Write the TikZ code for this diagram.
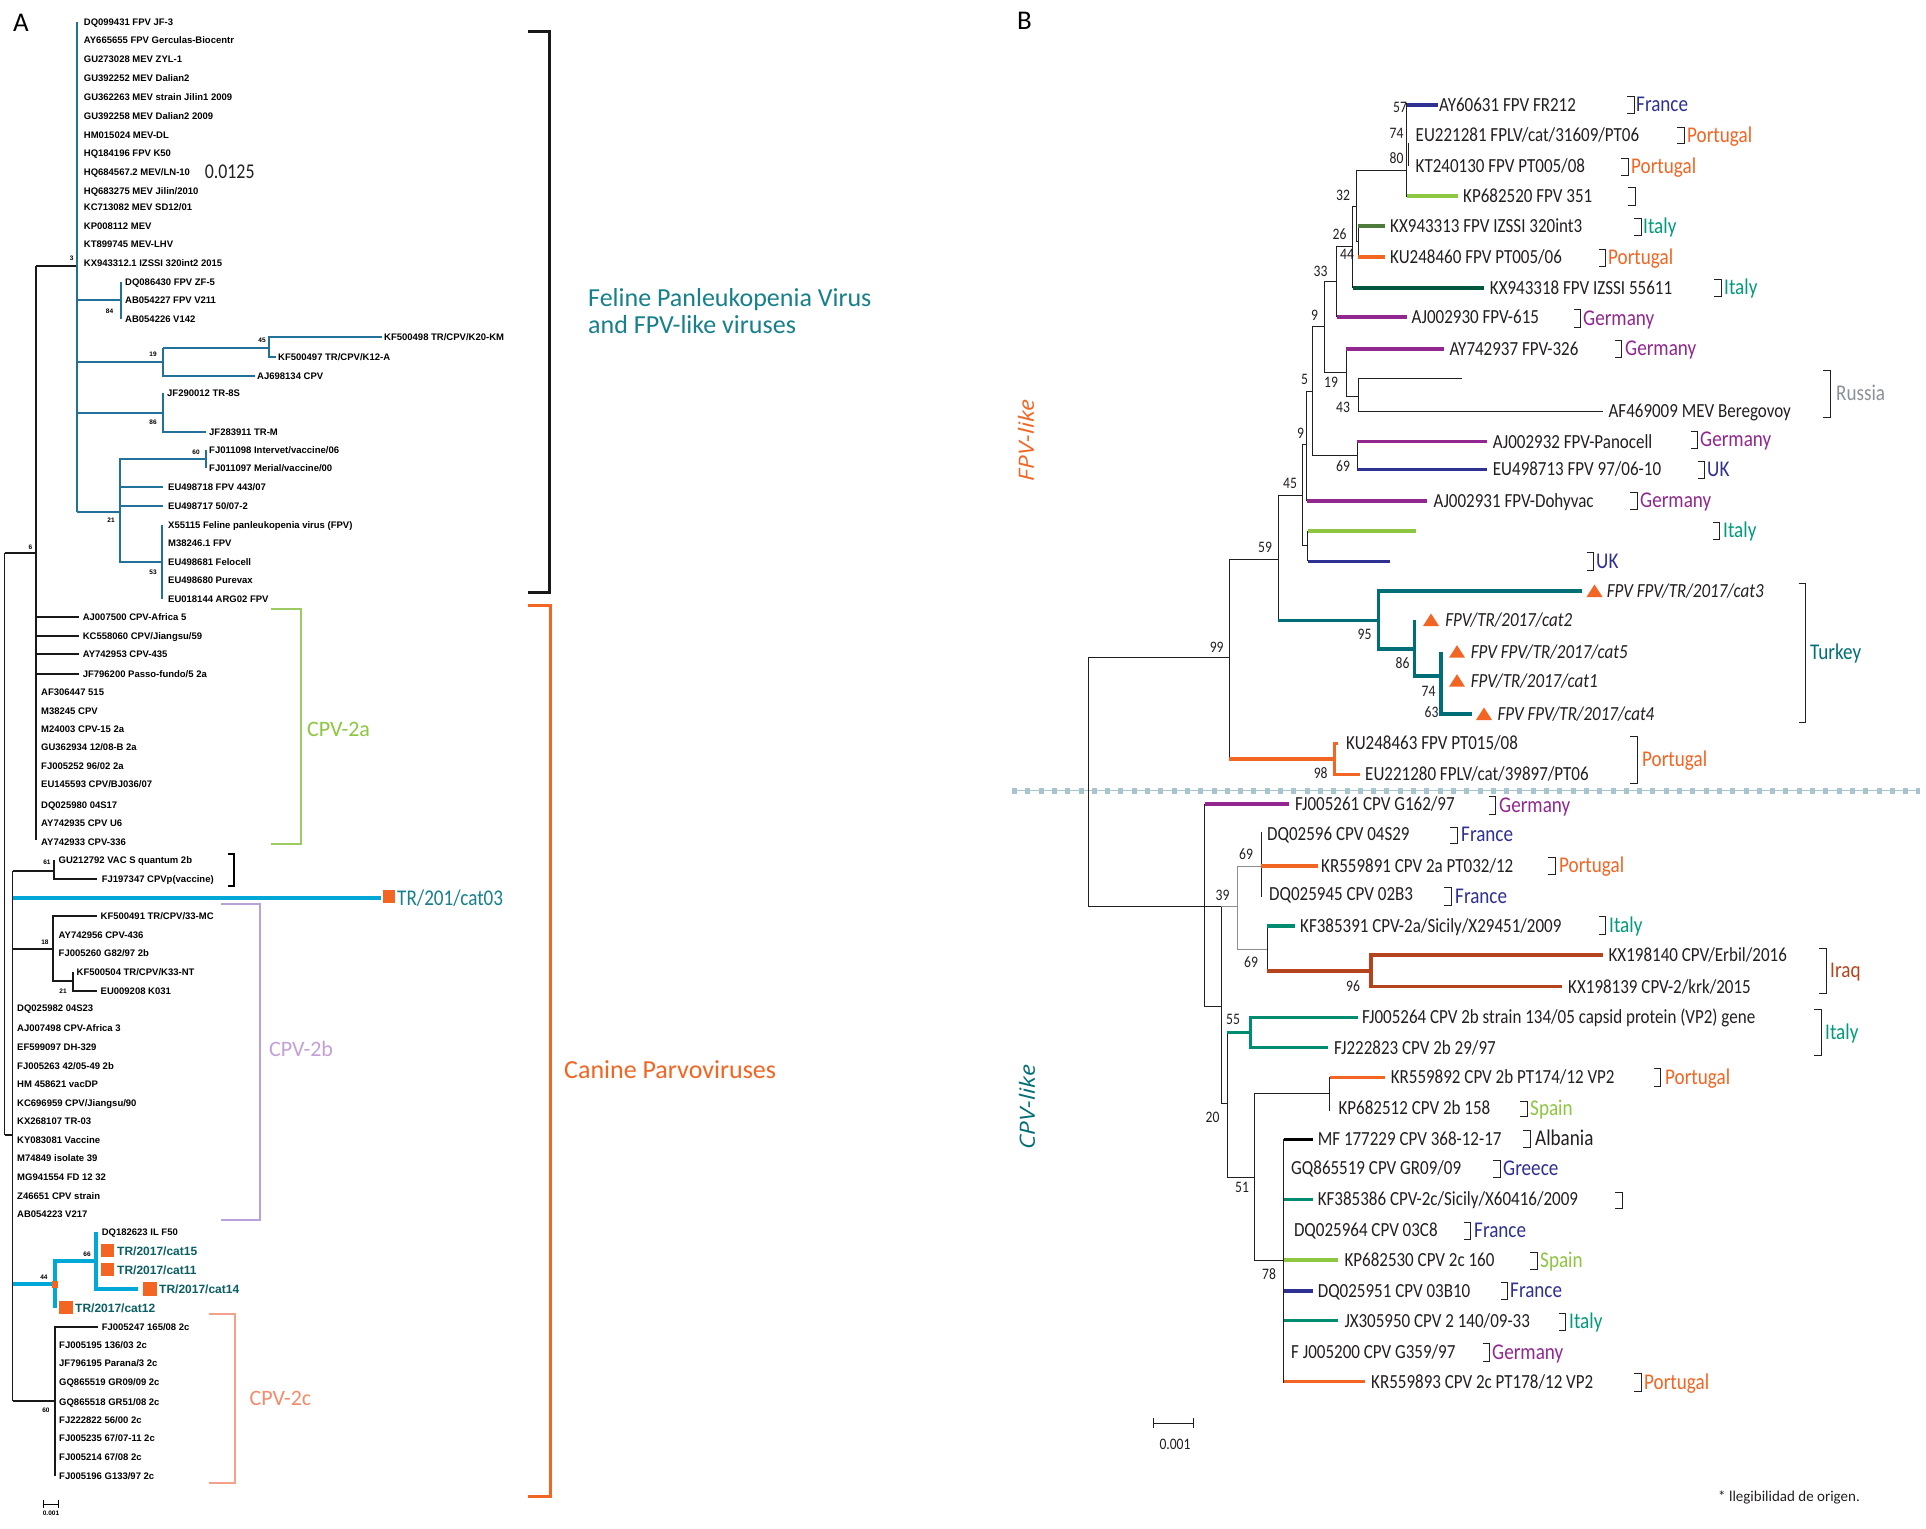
\documentclass[tikz,border=0pt]{standalone}
\usepackage{fontspec}
\usepackage{graphicx}
\newfontfamily\fa{Liberation Sans}
\newfontfamily\fb[FakeStretch=0.85]{Carlito}
\newfontfamily\fc{Carlito}
\newfontfamily\fo{Open Sans}
\definecolor{navyB}{HTML}{2E3192}
\definecolor{orangeB}{HTML}{F26522}
\definecolor{italyB}{HTML}{009B7A}
\definecolor{purpleB}{HTML}{92278F}
\definecolor{greenB}{HTML}{8DC63F}
\definecolor{grayB}{HTML}{8B9199}
\definecolor{turkeyB}{HTML}{006E76}
\definecolor{brownB}{HTML}{B5441E}
\definecolor{dkgA}{HTML}{4E7A3C}
\definecolor{dkgB}{HTML}{00573F}
\definecolor{tealC}{HTML}{008C70}
\definecolor{blueA}{HTML}{22719A}
\definecolor{cyanA}{HTML}{00A8D8}
\definecolor{tealA}{HTML}{17808A}
\definecolor{trA}{HTML}{0B5E63}
\definecolor{greenA}{HTML}{9CCB63}
\definecolor{purpleA}{HTML}{B7A3D9}
\definecolor{purpleL}{HTML}{C3A0D6}
\definecolor{salmonA}{HTML}{F3A18A}
\definecolor{salmonL}{HTML}{F48B6A}
\definecolor{sepB}{HTML}{A7C4CF}
\definecolor{inkB}{HTML}{231F20}
\tikzset{
  la/.style={anchor=west,inner sep=0pt,font=\fa\bfseries\fontsize{9.5}{10}\selectfont,text height=6.8pt,text depth=0pt},
  lt/.style={anchor=west,inner sep=0pt,font=\fa\bfseries\fontsize{12}{13}\selectfont,text height=8.6pt,text depth=0pt,text=trA},
  ba/.style={inner sep=0pt,font=\fa\bfseries\fontsize{6.5}{7}\selectfont},
  lb/.style={anchor=west,inner sep=0pt,font=\fb\fontsize{20}{22}\selectfont,text height=12.6pt,text depth=0pt,text=inkB},
  lbi/.style={lb,font=\fb\itshape\fontsize{20}{22}\selectfont},
  cl/.style={anchor=west,inner sep=0pt,font=\fb\fontsize{22.5}{24}\selectfont,text height=14.2pt,text depth=0pt},
  bb/.style={inner sep=0pt,font=\fb\fontsize{16}{17}\selectfont,text=inkB},
  big/.style={anchor=west,inner sep=0pt,font=\fc\fontsize{26}{28}\selectfont,text height=16.4pt,text depth=0pt},
  mid/.style={anchor=west,inner sep=0pt,font=\fc\fontsize{22}{24}\selectfont,text height=13.9pt,text depth=0pt},
  ta/.style={line width=1.2pt,black!90},
  tb/.style={line width=1.2pt,blueA},
  tc/.style={line width=3.3pt,cyanA},
  tn/.style={line width=1pt,inkB},
  tg/.style={line width=1pt,black!45},
  tk/.style={line width=3.3pt},
  brk/.style={line width=1pt,inkB},
}
\newcommand\LeafA[4]{\node[la] (#1) at (#2,#3) {#4};}
\newcommand\LeafB[4]{\node[lb] (#1) at (#2,#3) {#4};}
\newcommand\BootA[4]{\node[ba] (#1) at (#2,#3) {#4};}
\newcommand\BootB[4]{\node[bb] (#1) at (#2,#3) {#4};}
\newcommand\Brk[3]{\draw[brk] ({#1-7},#2) -- (#1,#2) -- (#1,#3) -- ({#1-7},#3);}
\newcommand\Ctry[5]{\node[cl,text=#4] (#1) at (#2,#3) {#5};}
\newcommand\Tri[2]{\fill[orangeB] (#1,{#2-6.5}) -- ({#1+8},{#2+6}) -- ({#1-8},{#2+6}) -- cycle;}
\begin{document}
\begin{tikzpicture}[x=1pt,y=-1pt]
\fill[white] (0,0) rectangle (1926,1528);
\useasboundingbox (0,0) rectangle (1926,1528);

% ---------------- Panel A ----------------
\node[anchor=west,inner sep=0pt,font=\fc\fontsize{27}{28}\selectfont,text height=17pt,text depth=0pt] (labA) at (13,23) {A};

% black branches
\draw[ta] (4.5,553) -- (4.5,1135);
\draw[ta] (4.5,553) -- (36,553);
\draw[ta] (4.5,1135) -- (12.6,1135);
\draw[ta] (36,266) -- (36,840);
\draw[line width=2.8pt,black!90] (36,266) -- (77,266);
\draw[ta] (36,617) -- (79,617);
\draw[ta] (36,636) -- (79,636);
\draw[ta] (36,654) -- (79,654);
\draw[ta] (36,674) -- (79,674);
\draw[ta] (12.6,871) -- (12.6,1401);
\draw[ta] (12.6,871) -- (54,871);
\draw[ta] (54,860) -- (54,879) -- (97,879);
\draw[ta] (12.6,949) -- (53,949);
\draw[ta] (97,916) -- (53,916) -- (53,981) -- (73,981);
\draw[ta] (73,972) -- (73,991) -- (97,991);
\draw[ta] (12.6,1401) -- (55,1401);
\draw[ta] (98,1327) -- (55,1327) -- (55,1476);
% blue branches
\draw[tb] (77,22) -- (77,512);
\draw[tb] (77,300) -- (121,300);
\draw[tb] (121,282) -- (121,319);
\draw[tb] (77,362) -- (163,362);
\draw[tb] (163,348) -- (163,376) -- (255,376);
\draw[tb] (163,348) -- (269,348);
\draw[tb] (382,337) -- (269,337) -- (269,357) -- (276,357);
\draw[tb] (77,413) -- (163,413);
\draw[tb] (163,393) -- (163,432) -- (206,432);
\draw[tb] (77,512) -- (120,512);
\draw[tb] (206,459) -- (120,459) -- (120,562) -- (162,562);
\draw[tb] (206,450) -- (206,468);
\draw[tb] (120,487) -- (163,487);
\draw[tb] (120,506) -- (163,506);
\draw[tb] (162,525) -- (162,599);
% cyan branches
\draw[tc] (12.6,898) -- (380.5,898);
\draw[tc] (12.6,1284) -- (55,1284);
\draw[tc] (55,1308) -- (55,1261) -- (96,1261);
\draw[tc] (96,1232) -- (96,1289) -- (138,1289);
% orange squares
\fill[orangeB] (383,890) rectangle (395,903);
\fill[orangeB] (100.5,1244) rectangle (114,1257);
\fill[orangeB] (100.5,1263) rectangle (114,1276);
\fill[orangeB] (143,1282) rectangle (156.5,1296);
\fill[orangeB] (59,1301) rectangle (72.5,1314);
\fill[orangeB] (52,1281) rectangle (57.5,1288);

% brackets A
\draw[line width=3pt,black!90] (528,32) -- (549,32) -- (549,592) -- (528,592);
\draw[line width=3pt,orangeB] (528,605) -- (550,605) -- (550,1496) -- (528,1496);
\draw[line width=1.3pt,greenA] (271,609) -- (301,609) -- (301,844) -- (271,844);
\draw[line width=1.1pt,black] (228,854) -- (234,854) -- (234,886) -- (228,886);
\draw[line width=1.3pt,purpleA] (221,904) -- (260,904) -- (260,1220) -- (221,1220);
\draw[line width=1.3pt,salmonA] (209,1314) -- (235,1314) -- (235,1483) -- (209,1483);

% leaf labels A
\LeafA{a1}{83.7}{22}{DQ099431 FPV JF-3}
\LeafA{a2}{83.7}{40}{AY665655 FPV Gerculas-Biocentr}
\LeafA{a3}{83.7}{59}{GU273028 MEV ZYL-1}
\LeafA{a4}{83.7}{78}{GU392252 MEV Dalian2}
\LeafA{a5}{83.7}{97}{GU362263 MEV strain Jilin1 2009}
\LeafA{a6}{83.7}{116}{GU392258 MEV Dalian2 2009}
\LeafA{a7}{83.7}{135}{HM015024 MEV-DL}
\LeafA{a8}{83.7}{153}{HQ184196 FPV K50}
\LeafA{a9}{83.7}{172}{HQ684567.2 MEV/LN-10}
\LeafA{a10}{83.7}{191}{HQ683275 MEV Jilin/2010}
\LeafA{a11}{83.7}{207}{KC713082 MEV SD12/01}
\LeafA{a12}{83.7}{226}{KP008112 MEV}
\LeafA{a13}{83.7}{244}{KT899745 MEV-LHV}
\LeafA{a14}{83.7}{263}{KX943312.1 IZSSI 320int2 2015}
\LeafA{a15}{125}{282}{DQ086430 FPV ZF-5}
\LeafA{a16}{125}{300}{AB054227 FPV V211}
\LeafA{a17}{125}{319}{AB054226 V142}
\LeafA{a18}{384}{337}{KF500498 TR/CPV/K20-KM}
\LeafA{a19}{278}{357}{KF500497 TR/CPV/K12-A}
\LeafA{a20}{257}{376}{AJ698134 CPV}
\LeafA{a21}{167}{393}{JF290012 TR-8S}
\LeafA{a22}{209}{432}{JF283911 TR-M}
\LeafA{a23}{209}{450}{FJ011098 Intervet/vaccine/06}
\LeafA{a24}{209}{468}{FJ011097 Merial/vaccine/00}
\LeafA{a25}{168}{487}{EU498718 FPV 443/07}
\LeafA{a26}{168}{506}{EU498717 50/07-2}
\LeafA{a27}{168}{525}{X55115 Feline panleukopenia virus (FPV)}
\LeafA{a28}{168}{543}{M38246.1 FPV}
\LeafA{a29}{168}{562}{EU498681 Felocell}
\LeafA{a30}{168}{580}{EU498680 Purevax}
\LeafA{a31}{168}{599}{EU018144 ARG02 FPV}
\LeafA{a32}{82.6}{617}{AJ007500 CPV-Africa 5}
\LeafA{a33}{82.6}{636}{KC558060 CPV/Jiangsu/59}
\LeafA{a34}{82.6}{654}{AY742953 CPV-435}
\LeafA{a35}{82.6}{674}{JF796200 Passo-fundo/5 2a}
\LeafA{a36}{41}{692}{AF306447 515}
\LeafA{a37}{41}{711}{M38245 CPV}
\LeafA{a38}{41}{729}{M24003 CPV-15 2a}
\LeafA{a39}{41}{747}{GU362934 12/08-B 2a}
\LeafA{a40}{41}{766}{FJ005252 96/02 2a}
\LeafA{a41}{41}{784}{EU145593 CPV/BJ036/07}
\LeafA{a42}{41}{805}{DQ025980 04S17}
\LeafA{a43}{41}{823}{AY742935 CPV U6}
\LeafA{a44}{41}{842}{AY742933 CPV-336}
\LeafA{a45}{58.5}{860}{GU212792 VAC S quantum 2b}
\LeafA{a46}{101.6}{879}{FJ197347 CPVp(vaccine)}
\LeafA{a47}{100.5}{916}{KF500491 TR/CPV/33-MC}
\LeafA{a48}{58.5}{935}{AY742956 CPV-436}
\LeafA{a49}{58.5}{953}{FJ005260 G82/97 2b}
\LeafA{a50}{76.5}{972}{KF500504 TR/CPV/K33-NT}
\LeafA{a51}{100.5}{991}{EU009208 K031}
\LeafA{a52}{17}{1008}{DQ025982 04S23}
\LeafA{a53}{17}{1028}{AJ007498 CPV-Africa 3}
\LeafA{a54}{17}{1047}{EF599097 DH-329}
\LeafA{a55}{17}{1066}{FJ005263 42/05-49 2b}
\LeafA{a56}{17}{1084}{HM 458621 vacDP}
\LeafA{a57}{17}{1103}{KC696959 CPV/Jiangsu/90}
\LeafA{a58}{17}{1121}{KX268107 TR-03}
\LeafA{a59}{17}{1140}{KY083081 Vaccine}
\LeafA{a60}{17}{1158}{M74849 isolate 39}
\LeafA{a61}{17}{1177}{MG941554 FD 12 32}
\LeafA{a62}{17}{1196}{Z46651 CPV strain}
\LeafA{a63}{17}{1214}{AB054223 V217}
\LeafA{a64}{101.6}{1232}{DQ182623 IL F50}
\node[lt] (t15) at (117,1251) {TR/2017/cat15};
\node[lt] (t11) at (117,1270) {TR/2017/cat11};
\node[lt] (t14) at (159,1289) {TR/2017/cat14};
\node[lt] (t12) at (75,1308) {TR/2017/cat12};
\LeafA{a65}{101.6}{1327}{FJ005247 165/08 2c}
\LeafA{a66}{59}{1345}{FJ005195 136/03 2c}
\LeafA{a67}{59}{1363}{JF796195 Parana/3 2c}
\LeafA{a68}{59}{1382}{GQ865519 GR09/09 2c}
\LeafA{a69}{59}{1402}{GQ865518 GR51/08 2c}
\LeafA{a70}{59}{1420}{FJ222822 56/00 2c}
\LeafA{a71}{59}{1438}{FJ005235 67/07-11 2c}
\LeafA{a72}{59}{1457}{FJ005214 67/08 2c}
\LeafA{a73}{59}{1476}{FJ005196 G133/97 2c}

% bootstrap A
\BootA{n1}{71.8}{258}{3}
\BootA{n2}{109.5}{311}{84}
\BootA{n3}{153}{354}{19}
\BootA{n4}{262}{340}{45}
\BootA{n5}{153}{422}{86}
\BootA{n6}{196}{452}{60}
\BootA{n7}{111}{520}{21}
\BootA{n8}{153}{572}{53}
\BootA{n9}{30.5}{547}{6}
\BootA{n10}{47}{862}{61}
\BootA{n11}{45}{942}{18}
\BootA{n12}{63}{991}{21}
\BootA{n13}{87}{1254}{66}
\BootA{n14}{44}{1277}{44}
\BootA{n15}{46}{1410}{60}

% text A
\node[anchor=west,inner sep=0pt,font=\fb\fontsize{21}{22}\selectfont,text height=13.3pt,text depth=0pt,text=inkB] (sc125) at (204.6,172) {0.0125};
\node[big,text=tealA] (fpvt1) at (588,298) {Feline Panleukopenia Virus};
\node[big,text=tealA] (fpvt2) at (588,325) {and FPV-like viruses};
\node[big,text=orangeB] (cpvt) at (564,1070) {Canine Parvoviruses};
\node[mid,text=greenB] (cpv2a) at (307,730) {CPV-2a};
\node[mid,text=purpleL] (cpv2b) at (269,1050) {CPV-2b};
\node[mid,text=salmonL] (cpv2c) at (249.5,1399) {CPV-2c};
\node[anchor=west,inner sep=0pt,font=\fb\fontsize{22.5}{24}\selectfont,text height=14.2pt,text depth=0pt,text=tealA] (cat03) at (397,898) {TR/201/cat03};
% scale A
\draw[line width=1pt] (43,1504) -- (58.5,1504);
\draw[line width=1pt] (43,1500) -- (43,1508);
\draw[line width=1pt] (58.5,1500) -- (58.5,1508);
\node[ba] (sca) at (51,1513) {0.001};

% ---------------- Panel B ----------------
\node[anchor=west,inner sep=0pt,font=\fc\fontsize{27}{28}\selectfont,text height=17pt,text depth=0pt] (labB) at (1017,21) {B};
\node[rotate=90,inner sep=0pt,text=orangeB,font=\fo\itshape\fontsize{21}{22}\selectfont] (fpvlike) at (1026,440) {\scalebox{1.15}[1]{FPV-like}};
\node[rotate=90,inner sep=0pt,text=turkeyB,font=\fo\itshape\fontsize{21}{22}\selectfont] (cpvlike) at (1027,1107) {\scalebox{1.15}[1]{CPV-like}};

% separator
\draw[sepB,line width=1.5pt] (1012,790.7) -- (1920,790.7);
\draw[sepB,line width=6pt,dash pattern=on 5pt off 8.3pt] (1012,790.7) -- (1920,790.7);

% thin black branches B
\draw[tn] (1406.6,103) -- (1406.6,197);
\draw[tn] (1408.4,143) -- (1408.4,166);
\draw[tn] (1356,170.7) -- (1406.6,170.7);
\draw[tn] (1356,170.7) -- (1356,241.5) -- (1358,241.5);
\draw[tn] (1358,226) -- (1358,257);
\draw[tn] (1356,206) -- (1352.6,206) -- (1352.6,288);
\draw[tn] (1336.6,317) -- (1336.6,246) -- (1352.6,246);
\draw[tn] (1336.6,281) -- (1324.7,281) -- (1324.7,372) -- (1346,372);
\draw[tn] (1346,349) -- (1346,396) -- (1358,396);
\draw[tn] (1462,378) -- (1358,378) -- (1358,411) -- (1602.5,411);
\draw[tn] (1324.7,326.7) -- (1312.3,326.7) -- (1312.3,455.7) -- (1357,455.7);
\draw[tn] (1357,441.7) -- (1357,469.3);
\draw[tn] (1312.3,391.7) -- (1306.7,391.7) -- (1306.7,501);
\draw[tn] (1306.7,444.3) -- (1302.7,444.3) -- (1302.7,545.7) -- (1307.5,545.7);
\draw[tn] (1307.5,531) -- (1307.5,561.3);
\draw[tn] (1302.7,495.3) -- (1278.3,495.3) -- (1278.3,620.7);
\draw[tn] (1278.3,559.3) -- (1229.3,559.3) -- (1229.3,759);
\draw[tn] (1229.3,657.3) -- (1088.3,657.3) -- (1088.3,906) -- (1221.4,906);
\draw[tn] (1204.8,804) -- (1204.8,1006) -- (1221.4,1006);
\draw[tn] (1221.4,906) -- (1221.4,1103) -- (1227.3,1103);
\draw[tn] (1227.3,1032.7) -- (1227.3,1177.3) -- (1254,1177.3);
\draw[tn] (1254,1093.3) -- (1254,1260) -- (1283.7,1260);
\draw[tn] (1254,1093.3) -- (1329.5,1093.3);
\draw[tn] (1329.5,1077.3) -- (1329.5,1110.7);
\draw[tn] (1283.7,1139.3) -- (1283.7,1382.7);
\draw[tn] (1267,926) -- (1267,972);
\draw[tn] (1261,831.7) -- (1261,896.7);
\draw[tg] (1221.4,906) -- (1237.4,906);
\draw[tg] (1261,866) -- (1237.4,866) -- (1237.4,949) -- (1267,949);

% thick coloured branches B
\draw[tk,navyB] (1406.6,105) -- (1438,105);
\draw[tk,greenB] (1406.6,196) -- (1458,196);
\draw[tk,dkgA] (1358,226) -- (1384.6,226);
\draw[tk,orangeB] (1358,257) -- (1384.6,257);
\draw[tk,dkgB] (1352.6,288) -- (1483.8,288);
\draw[tk,purpleB] (1336.6,317) -- (1406.6,317);
\draw[tk,purpleB] (1346,349) -- (1444,349);
\draw[tk,purpleB] (1357,441.7) -- (1486.8,441.7);
\draw[tk,navyB] (1357,469.3) -- (1486.8,469.3);
\draw[tk,purpleB] (1306.7,501) -- (1427.4,501);
\draw[tk,greenB] (1307.5,531) -- (1415.5,531);
\draw[tk,navyB] (1307.5,561.3) -- (1390,561.3);
\draw[tk,turkeyB] (1278.3,620.7) -- (1378.7,620.7);
\draw[tk,turkeyB] (1581.7,591) -- (1378.7,591) -- (1378.7,649) -- (1414.3,649);
\draw[tk,turkeyB] (1414.3,620) -- (1414.3,676) -- (1441,676);
\draw[tk,turkeyB] (1441,651.7) -- (1441,714) -- (1472,714);
\draw[tk,orangeB] (1229.3,759) -- (1334.3,759);
\draw[tk,orangeB] (1338,743.3) -- (1334.3,743.3) -- (1334.3,774.3) -- (1360,774.3);
\draw[tk,purpleB] (1204.8,804) -- (1289,804);
\draw[tk,orangeB] (1261,866) -- (1317.6,866);
\draw[tk,tealC] (1267,926) -- (1295,926);
\draw[tk,brownB] (1267,971) -- (1371,971);
\draw[tk,brownB] (1602.5,955) -- (1371,955) -- (1371,986.7) -- (1562,986.7);
\draw[tk,tealC] (1227.3,1032.7) -- (1250.5,1032.7);
\draw[tk,tealC] (1358,1017.3) -- (1250.5,1017.3) -- (1250.5,1047.7) -- (1328,1047.7);
\draw[tk,orangeB] (1329.5,1077.3) -- (1384.7,1077.3);
\draw[tk,black] (1283.7,1139.3) -- (1312.8,1139.3);
\draw[tk,tealC] (1283.7,1199.3) -- (1312.8,1199.3);
\draw[tk,greenB] (1283.7,1260) -- (1338.4,1260);
\draw[tk,navyB] (1283.7,1291) -- (1312.8,1291);
\draw[tk,tealC] (1283.7,1320.7) -- (1338.4,1320.7);
\draw[tk,orangeB] (1283.7,1381.7) -- (1365,1381.7);

% triangles
\Tri{1594.5}{591}
\Tri{1431}{620}
\Tri{1457}{651.7}
\Tri{1457}{680.7}
\Tri{1484}{714}

% leaf labels B
\LeafB{b1}{1439}{105}{AY60631 FPV FR212}
\LeafB{b2}{1415.5}{135}{EU221281 FPLV/cat/31609/PT06}
\LeafB{b3}{1415.5}{166}{KT240130 FPV PT005/08}
\LeafB{b4}{1463}{196}{KP682520 FPV 351}
\LeafB{b5}{1390}{226}{KX943313 FPV IZSSI 320int3}
\LeafB{b6}{1390}{257}{KU248460 FPV PT005/06}
\LeafB{b7}{1489.7}{288}{KX943318 FPV IZSSI 55611}
\LeafB{b8}{1411.4}{317}{AJ002930 FPV-615}
\LeafB{b9}{1449.4}{349}{AY742937 FPV-326}
\LeafB{b10}{1608.4}{411}{AF469009 MEV Beregovoy}
\LeafB{b11}{1492.7}{441.7}{AJ002932 FPV-Panocell}
\LeafB{b12}{1492.7}{469.3}{EU498713 FPV 97/06-10}
\LeafB{b13}{1433.3}{501}{AJ002931 FPV-Dohyvac}
\node[lbi] (c3) at (1606.7,591) {FPV FPV/TR/2017/cat3};
\node[lbi] (c2) at (1445.2,620) {FPV/TR/2017/cat2};
\node[lbi] (c5) at (1470.7,651.7) {FPV FPV/TR/2017/cat5};
\node[lbi] (c1) at (1470.7,680.7) {FPV/TR/2017/cat1};
\node[lbi] (c4) at (1497.4,714) {FPV FPV/TR/2017/cat4};
\LeafB{b14}{1346}{743.3}{KU248463 FPV PT015/08}
\LeafB{b15}{1365}{774.3}{EU221280 FPLV/cat/39897/PT06}
\LeafB{b16}{1295}{804}{FJ005261 CPV G162/97}
\LeafB{b17}{1267}{834}{DQ02596 CPV 04S29}
\LeafB{b18}{1321}{866}{KR559891 CPV 2a PT032/12}
\LeafB{b19}{1269}{894}{DQ025945 CPV 02B3}
\LeafB{b20}{1300}{926}{KF385391 CPV-2a/Sicily/X29451/2009}
\LeafB{b21}{1608.4}{955}{KX198140 CPV/Erbil/2016}
\LeafB{b22}{1568}{986.7}{KX198139 CPV-2/krk/2015}
\LeafB{b23}{1362}{1017.3}{FJ005264 CPV 2b strain 134/05 capsid protein (VP2) gene}
\LeafB{b24}{1334}{1047.7}{FJ222823 CPV 2b 29/97}
\LeafB{b25}{1390.6}{1077.3}{KR559892 CPV 2b PT174/12 VP2}
\LeafB{b26}{1338.4}{1108.3}{KP682512 CPV 2b 158}
\LeafB{b27}{1317.6}{1139.3}{MF 177229 CPV 368-12-17}
\LeafB{b28}{1291}{1168.3}{GQ865519 CPV GR09/09}
\LeafB{b29}{1317.6}{1199.3}{KF385386 CPV-2c/Sicily/X60416/2009}
\LeafB{b30}{1293.8}{1230}{DQ025964 CPV 03C8}
\LeafB{b31}{1344.3}{1260}{KP682530 CPV 2c 160}
\LeafB{b32}{1317.6}{1291}{DQ025951 CPV 03B10}
\LeafB{b33}{1344.3}{1320.7}{JX305950 CPV 2 140/09-33}
\LeafB{b34}{1291}{1351.7}{F J005200 CPV G359/97}
\LeafB{b35}{1371}{1381.7}{KR559893 CPV 2c PT178/12 VP2}

% bootstrap B
\BootB{m1}{1400}{107}{57}
\BootB{m2}{1396.5}{133}{74}
\BootB{m3}{1396.5}{158}{80}
\BootB{m4}{1343}{195}{32}
\BootB{m5}{1339.5}{234}{26}
\BootB{m6}{1347}{254}{44}
\BootB{m7}{1320.5}{271}{33}
\BootB{m8}{1314.6}{315}{9}
\BootB{m9}{1331}{382}{19}
\BootB{m10}{1304.5}{379}{5}
\BootB{m11}{1343}{407}{43}
\BootB{m12}{1300.5}{433}{9}
\BootB{m13}{1343}{466}{69}
\BootB{m14}{1290}{483}{45}
\BootB{m15}{1265}{547}{59}
\BootB{m16}{1216.7}{647}{99}
\BootB{m17}{1364.5}{634}{95}
\BootB{m18}{1402.5}{663}{86}
\BootB{m19}{1428.6}{691}{74}
\BootB{m20}{1431.5}{712}{63}
\BootB{m21}{1320.7}{773}{98}
\BootB{m22}{1246}{854}{69}
\BootB{m23}{1222.6}{895}{39}
\BootB{m24}{1251}{962}{69}
\BootB{m25}{1353}{986}{96}
\BootB{m26}{1233}{1019}{55}
\BootB{m27}{1212.5}{1117}{20}
\BootB{m28}{1242}{1187}{51}
\BootB{m29}{1269}{1274}{78}

% brackets B
\Brk{1634}{96}{113}
\Brk{1684.4}{127}{143}
\Brk{1628}{158}{175}
\Brk{1635}{187}{205}
\Brk{1641}{218}{235}
\Brk{1605.5}{249}{266}
\Brk{1721}{279}{296}
\Brk{1580.5}{309}{327}
\Brk{1621.5}{340}{357}
\Brk{1830}{370}{417}
\Brk{1697.5}{431}{448}
\Brk{1704.6}{461}{478}
\Brk{1637}{492}{509}
\Brk{1719.5}{522}{539}
\Brk{1593.6}{552}{570}
\Brk{1805.5}{583}{722}
\Brk{1637}{736}{783}
\Brk{1495.7}{796}{814}
\Brk{1457}{827}{843}
\Brk{1555}{857}{874}
\Brk{1451}{887}{905}
\Brk{1605.5}{916}{934}
\Brk{1826}{948}{993}
\Brk{1821}{1009}{1055}
\Brk{1660.7}{1068}{1086}
\Brk{1527}{1101}{1116}
\Brk{1530}{1130}{1147}
\Brk{1500.4}{1160}{1177}
\Brk{1622}{1192}{1208}
\Brk{1470.7}{1222}{1239}
\Brk{1537}{1252}{1269}
\Brk{1507.5}{1282}{1299}
\Brk{1565.7}{1313}{1330}
\Brk{1489.7}{1343}{1361}
\Brk{1641}{1373}{1391}

% country labels
\Ctry{k1}{1636}{104.5}{navyB}{France}
\Ctry{k2}{1687}{135}{orangeB}{Portugal}
\Ctry{k3}{1631}{166}{orangeB}{Portugal}
\Ctry{k4}{1643}{226}{italyB}{Italy}
\Ctry{k5}{1608}{257}{orangeB}{Portugal}
\Ctry{k6}{1724}{287}{italyB}{Italy}
\Ctry{k7}{1583}{318}{purpleB}{Germany}
\Ctry{k8}{1625}{348.5}{purpleB}{Germany}
\Ctry{k9}{1836}{393}{grayB}{Russia}
\Ctry{k10}{1700}{439.5}{purpleB}{Germany}
\Ctry{k11}{1707}{469.3}{navyB}{UK}
\Ctry{k12}{1640}{500.5}{purpleB}{Germany}
\Ctry{k13}{1723}{530}{italyB}{Italy}
\Ctry{k14}{1596}{561}{navyB}{UK}
\Ctry{k15}{1810}{652}{turkeyB}{Turkey}
\Ctry{k16}{1642}{759}{orangeB}{Portugal}
\Ctry{k17}{1499}{805}{purpleB}{Germany}
\Ctry{k18}{1461}{834.7}{navyB}{France}
\Ctry{k19}{1559}{865.5}{orangeB}{Portugal}
\Ctry{k20}{1455}{896}{navyB}{France}
\Ctry{k21}{1609}{925}{italyB}{Italy}
\Ctry{k22}{1830}{970}{brownB}{Iraq}
\Ctry{k23}{1825}{1032}{italyB}{Italy}
\Ctry{k24}{1665}{1077}{orangeB}{Portugal}
\Ctry{k25}{1530}{1108.3}{greenB}{Spain}
\Ctry{k26}{1535}{1138.3}{inkB}{Albania}
\Ctry{k27}{1503}{1168.3}{navyB}{Greece}
\Ctry{k28}{1474}{1230.5}{navyB}{France}
\Ctry{k29}{1540}{1260.5}{greenB}{Spain}
\Ctry{k30}{1510}{1290.5}{navyB}{France}
\Ctry{k31}{1569}{1321.5}{italyB}{Italy}
\Ctry{k32}{1492}{1352}{purpleB}{Germany}
\Ctry{k33}{1644}{1382}{orangeB}{Portugal}

% scale B
\draw[line width=1pt,inkB] (1153,1423) -- (1193,1423);
\draw[line width=1pt,inkB] (1153,1418) -- (1153,1428);
\draw[line width=1pt,inkB] (1193,1418) -- (1193,1428);
\node[bb] (scb) at (1175,1444) {0.001};

% footnote
\node[anchor=west,inner sep=0pt,font=\fc\fontsize{15}{16}\selectfont,text=inkB] (fn) at (1718,1497) {* llegibilidad de origen.};
\end{tikzpicture}
\end{document}
